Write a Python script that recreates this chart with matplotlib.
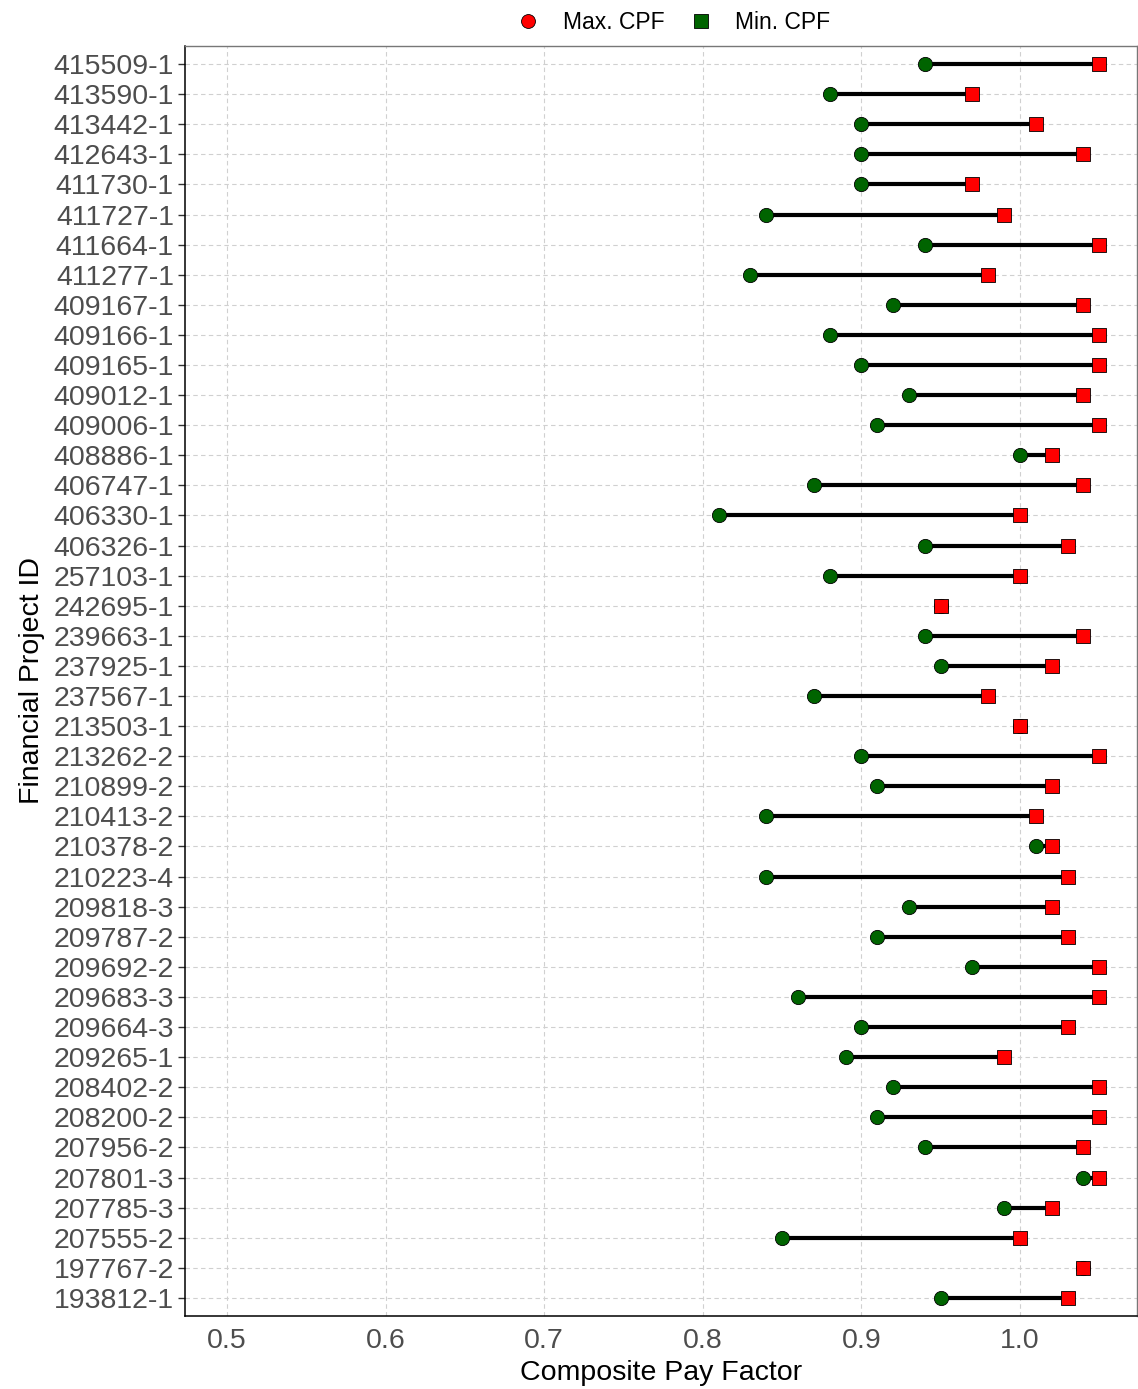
import matplotlib
matplotlib.use("Agg")
import matplotlib.pyplot as plt
from matplotlib.lines import Line2D

plt.rcParams['font.family'] = ['Liberation Sans', 'DejaVu Sans']

# rows listed top to bottom
project_ids = [
    "415509-1", "413590-1", "413442-1", "412643-1", "411730-1", "411727-1",
    "411664-1", "411277-1", "409167-1", "409166-1", "409165-1", "409012-1",
    "409006-1", "408886-1", "406747-1", "406330-1", "406326-1", "257103-1",
    "242695-1", "239663-1", "237925-1", "237567-1", "213503-1", "213262-2",
    "210899-2", "210413-2", "210378-2", "210223-4", "209818-3", "209787-2",
    "209692-2", "209683-3", "209664-3", "209265-1", "208402-2", "208200-2",
    "207956-2", "207801-3", "207785-3", "207555-2", "197767-2", "193812-1",
]
min_cpf = [
    0.94, 0.88, 0.90, 0.90, 0.90, 0.84, 0.94, 0.83, 0.92, 0.88, 0.90, 0.93,
    0.91, 1.00, 0.87, 0.81, 0.94, 0.88, 0.95, 0.94, 0.95, 0.87, 1.00, 0.90,
    0.91, 0.84, 1.01, 0.84, 0.93, 0.91, 0.97, 0.86, 0.90, 0.89, 0.92, 0.91,
    0.94, 1.04, 0.99, 0.85, 1.04, 0.95,
]
max_cpf = [
    1.05, 0.97, 1.01, 1.04, 0.97, 0.99, 1.05, 0.98, 1.04, 1.05, 1.05, 1.04,
    1.05, 1.02, 1.04, 1.00, 1.03, 1.00, 0.95, 1.04, 1.02, 0.98, 1.00, 1.05,
    1.02, 1.01, 1.02, 1.03, 1.02, 1.03, 1.05, 1.05, 1.03, 0.99, 1.05, 1.05,
    1.04, 1.05, 1.02, 1.00, 1.04, 1.03,
]
x_ticks = [0.5, 0.6, 0.7, 0.8, 0.9, 1.0]

n = len(project_ids)
ypos = [n - 1 - i for i in range(n)]

fig = plt.figure(figsize=(11.38, 13.89), dpi=100)
ax = fig.add_axes([0.1626, 0.0526, 0.8365, 0.9143])

ax.hlines(ypos, min_cpf, max_cpf, color='black', linewidth=3, zorder=3)
ax.scatter(min_cpf, ypos, marker='o', s=105, color='#006400',
           edgecolors='black', linewidths=0.6, zorder=4)
ax.scatter(max_cpf, ypos, marker='s', s=100, color='#FF0000',
           edgecolors='black', linewidths=0.6, zorder=5)

ax.set_xlim(0.4735, 1.0738)
ax.set_ylim(-0.6, n - 0.4)
ax.set_yticks(ypos)
ax.set_yticklabels(project_ids)
ax.set_xticks(x_ticks)
ax.set_xticklabels([f"{t:.1f}" for t in x_ticks])

ax.grid(True, color='#D0D0D0', linestyle=(0, (4, 3)), linewidth=0.8)
ax.set_axisbelow(True)

ax.tick_params(axis='y', labelsize=20.5, labelcolor='#4D4D4D', length=5,
               width=1, color='#333333', pad=3)
ax.tick_params(axis='x', labelsize=20.5, labelcolor='#4D4D4D', length=0, pad=9)

for side in ['left', 'bottom']:
    ax.spines[side].set_color('black')
    ax.spines[side].set_linewidth(1.1)
for side in ['top', 'right']:
    ax.spines[side].set_color('#777777')
    ax.spines[side].set_linewidth(1.0)

ax.set_xlabel("Composite Pay Factor", fontsize=20.5, color='black', labelpad=4)
ax.set_ylabel("Financial Project ID", fontsize=20.5, color='black', labelpad=6)

handles = [
    Line2D([], [], linestyle='none', marker='o', markersize=10,
           markerfacecolor='#FF0000', markeredgecolor='black', markeredgewidth=0.6),
    Line2D([], [], linestyle='none', marker='s', markersize=10,
           markerfacecolor='#006400', markeredgecolor='black', markeredgewidth=0.6),
]
fig.legend(handles, ["Max. CPF", "Min. CPF"], loc='center',
           bbox_to_anchor=(0.587, 0.984), ncol=2, frameon=False, fontsize=16.5,
           handletextpad=0.5, columnspacing=0.6)

fig.savefig("out.png", dpi=100)
